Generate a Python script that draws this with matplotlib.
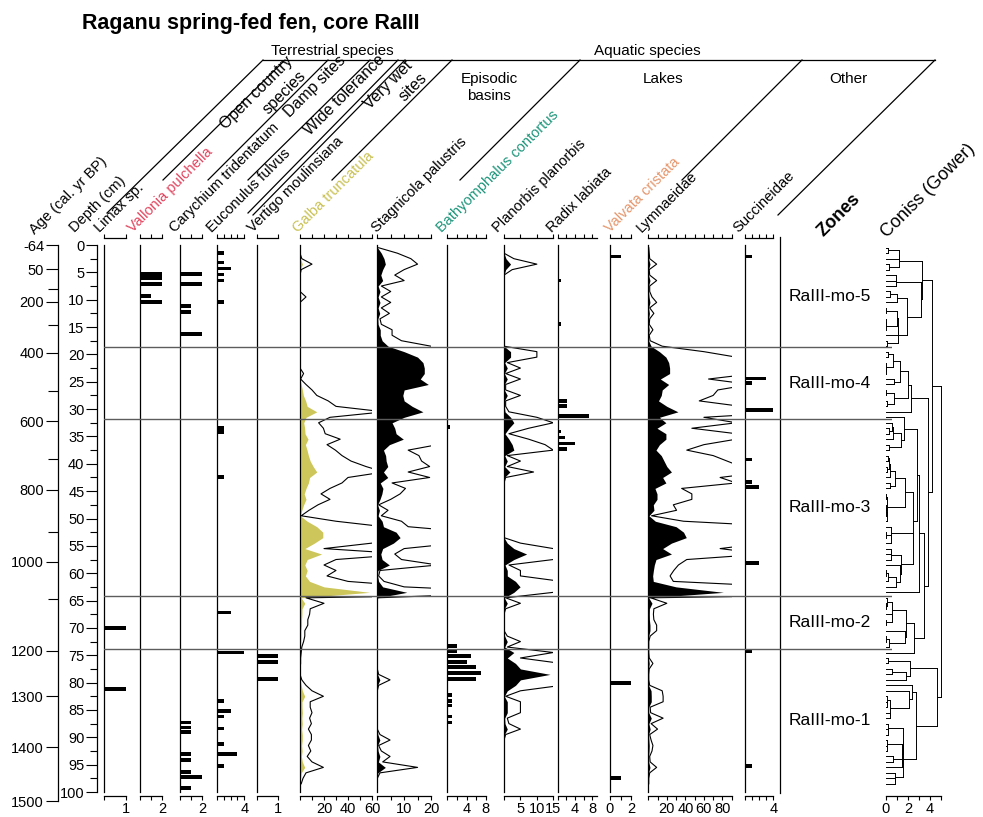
"""
Mollusc diagram, Raganu spring-fed fen, core RaIII
"""

import numpy as np
import matplotlib
matplotlib.use('Agg')
import matplotlib.pyplot as plt
from matplotlib.lines import Line2D

plt.rcParams['font.family'] = ['Liberation Sans', 'DejaVu Sans']

# ---------------------------------------------------------------------------- #
# Data
# ---------------------------------------------------------------------------- #

sample_depth = np.arange(0.5, 99.0, 1.0)   # 1 cm slices, cm

galba = [0, 0, 0.3, 2.0, 0.2, 0, 0, 0, 0, 1.0,
         0, 0, 0, 0, 0, 0, 0, 0, 0, 0,
         0, 0, 0, 0.6, 0.1, 1.0, 2.0, 2.8, 4.7, 6.0,
         14, 5.0, 3.1, 3.9, 4.2, 6.7, 4.5, 5.9, 7.0, 8.5,
         11, 14, 8.0, 7.0, 5.0, 3.5, 5.0, 3.0, 1.5, 0.2,
         6.0, 14, 19, 19, 12, 4.0, 18, 6.0, 4.0, 6.0,
         4.5, 8.0, 20, 58, 1.0, 4.0, 1.7, 1.6, 1.3, 1.3,
         0.8, 0.8, 0.6, 0.3, 0.2, 0.1, 0.1, 0, 0, 0.3,
         1.0, 2.0, 3.9, 1.7, 1.7, 2.0, 1.6, 1.9, 1.4, 1.9,
         1.9, 1.4, 1.8, 1.2, 2.0, 3.9, 1.0, 0.5, 0.2]

stagnicola = [0.1, 1.5, 2.5, 3.0, 2.0, 1.3, 2.0, 0.3, 1.0, 0.3,
              1.0, 0.3, 0.9, 0.2, 0.3, 1.1, 1.1, 1.8, 4.0, 10,
              15, 17, 17.5, 17.5, 16, 19, 10, 9.5, 10, 13,
              17, 10, 5.5, 6.5, 7.0, 9.7, 4.5, 2.3, 3.1, 3.3,
              3.9, 2.3, 3.9, 1.1, 2.1, 1.7, 1.0, 0.1, 0.8, 0.3,
              1.8, 2.3, 7.0, 8.5, 6.0, 2.0, 1.3, 1.8, 4.5, 0.2,
              0.1, 0.5, 2.0, 11, 0, 0, 0, 0, 0, 0,
              0, 0, 0, 0, 0, 0, 0, 0, 0.1, 0.95,
              0.1, 0, 0, 0, 0, 0, 0, 0, 0, 0.2,
              0.95, 0.1, 0.3, 0.95, 0.4, 3.0, 0.2, 0, 0]

planorbis = [0, 0, 0.6, 2.0, 0.5, 0, 0, 0, 0, 0,
             0, 0, 0, 0, 0, 0, 0, 0, 0, 2.0,
             2.0, 0.2, 1.0, 0.1, 1.0, 0.1, 0.1, 1.0, 0.1, 0.1,
             0.3, 2.0, 3.0, 1.5, 0.3, 1.5, 2.5, 3.0, 0.2, 1.0,
             0.2, 1.8, 0.1, 0, 0, 0, 0, 0, 0, 0,
             0, 0, 0, 0, 1.0, 3.0, 6.9, 3.0, 0.3, 1.0,
             1.0, 3.5, 4.9, 3.0, 0.1, 1.0, 0.1, 0, 0, 0,
             0, 0.2, 1.0, 0.2, 3.0, 1.0, 3.5, 5.0, 14, 5.0,
             3.5, 1.0, 0.1, 1.0, 1.0, 1.0, 0.2, 0.3, 1.0, 0.1,
             0, 0, 0, 0, 0, 0, 0, 0, 0]

lymnaeidae = [0.1, 0.2, 0.3, 1.8, 0.2, 0.3, 1.8, 0.3, 0.3, 0.8,
              1.8, 0.3, 1.2, 0.3, 0.2, 1.0, 0.2, 0.4, 3.0, 12,
              19, 22, 23, 23, 13, 22, 15, 14, 11, 20,
              32, 12, 19, 9.4, 19, 19, 12, 8.3, 14, 17,
              20, 25, 15.5, 19, 7.2, 9.4, 9.4, 5.4, 6.1, 0.7,
              7.6, 30, 38, 41, 25, 15.5, 25, 8.3, 6.5, 5.5,
              4.7, 5.4, 30, 81, 0.5, 4.0, 1.2, 1.1, 1.2, 1.8,
              1.8, 0.4, 0.1, 0.1, 0.1, 0.2, 1.0, 0.2, 0.1, 0.1,
              0.3, 3.0, 3.2, 3.2, 0.4, 0.5, 3.2, 0.6, 2.0, 0.3,
              0.6, 1.0, 0.8, 0.3, 0.4, 1.8, 0.3, 0.1, 0.1]

limax_depth = [70.0, 81.2]
limax = [1, 1]
vallonia_depth = [5.3, 6.1, 7.2, 9.3, 10.4]
vallonia = [2, 2, 2, 1, 2]
carychium_depth = [5.3, 7.2, 11.2, 12.2, 16.2, 87.3, 88.2, 89.1, 93.1, 94.1,
                   96.3, 97.3, 99.2]
carychium = [2, 2, 1, 1, 2, 1, 1, 1, 1, 1, 1, 2, 1]
euconulus_depth = [1.4, 3.2, 4.3, 5.4, 6.5, 10.4, 33.4, 34.2, 42.4, 67.2,
                   74.5, 83.4, 85.2, 86.2, 88.4, 91.3, 93.1, 95.2]
euconulus = [1, 1, 2, 1, 1, 1, 1, 1, 1, 2, 4, 1, 2, 1, 1, 1, 3, 1]
vertigo_depth = [75.1, 76.2, 79.4]
vertigo = [1, 1, 1]
bathyomphalus_depth = [33.3, 73.3, 74.3, 75.1, 76.2, 77.2, 78.3, 79.4, 82.3,
                       83.3, 84.2, 86.2, 87.3]
bathyomphalus = [0.5, 2, 2, 5, 4, 6, 7, 6, 1, 1, 1, 1, 1]
radix_depth = [6.5, 14.4, 28.5, 29.4, 31.2, 34.1, 35.2, 36.3, 37.3]
radix = [0.7, 0.7, 2.2, 2.2, 7.2, 0.7, 1.6, 4.0, 2.2]
valvata_depth = [2.1, 80.1, 97.4]
valvata = [1, 2, 1]
succineidae_depth = [2.1, 24.4, 25.2, 30.2, 39.2, 43.3, 44.2, 58.2, 74.3, 95.2]
succineidae = [1, 3, 1, 4, 1, 1, 2, 2, 1, 1]

zone_bounds = [18.7, 31.8, 64.1, 73.9]
zone_names = ['RaIII-mo-5', 'RaIII-mo-4', 'RaIII-mo-3', 'RaIII-mo-2', 'RaIII-mo-1']

age_major = ['-64', '50', '200', '400', '600', '800', '1000', '1200', '1300', '1400', '1500']
age_major_depth = [0, 4.4, 10.4, 19.7, 32.2, 44.7, 57.9, 74.2, 82.5, 91.8, 101.7]
age_minor_depth = [8.0, 14.6, 26.7, 39.1, 52.5, 64.7]   # 100, 300, ..., 1100

EXAG = 5

# ---------------------------------------------------------------------------- #
# Layout (pixels of the 983 x 817 figure)
# ---------------------------------------------------------------------------- #

W, H = 983.0, 817.0
TOP, BOT = 245.0, 792.0


def fx(x):
    return x / W


def fy(y):
    return 1.0 - y / H


def add_panel(x0, x1, y0=TOP, y1=BOT):
    return fig.add_axes([fx(x0), fy(y1), (x1 - x0) / W, (y1 - y0) / H])


# name, data, x0, x1, xmax, ticks, labelled ticks, label anchor x, label colour
panels = [
    ('Limax sp.', (limax_depth, limax), 104.3, 126.0, 1, [0, 1], [1], 100, 'black'),
    ('Vallonia pulchella', (vallonia_depth, vallonia), 139.7, 162.0, 2, [0, 1, 2], [2], 133, '#e2445e'),
    ('Carychium tridentatum', (carychium_depth, carychium), 180.3, 202.0, 2, [0, 1, 2], [2], 175, 'black'),
    ('Euconulus fulvus', (euconulus_depth, euconulus), 216.7, 244.3, 4, [0, 1, 2, 3, 4], [4], 212, 'black'),
    ('Vertigo moulinsiana', (vertigo_depth, vertigo), 256.7, 278.3, 1, [0, 1], [1], 253, 'black'),
    ('Galba truncatula', galba, 300.0, 372.0, 60, list(range(0, 61, 10)), [20, 40, 60], 298, '#c9c153'),
    ('Stagnicola palustris', stagnicola, 377.3, 431.0, 20, [0, 5, 10, 15, 20], [10, 20], 377, 'black'),
    ('Bathyomphalus contortus', (bathyomphalus_depth, bathyomphalus), 447.3, 485.7, 8, [0, 2, 4, 6, 8], [4, 8], 442, '#1c957a'),
    ('Planorbis planorbis', planorbis, 504.0, 553.3, 15, [0, 5, 10, 15], [5, 10, 15], 498, 'black'),
    ('Radix labiata', (radix_depth, radix), 557.7, 596.7, 9, [0, 2, 4, 6, 8], [4, 8], 552, 'black'),
    ('Valvata cristata', (valvata_depth, valvata), 610.0, 631.0, 2, [0, 1, 2], [0, 2], 610, '#e6966c'),
    ('Lymnaeidae', lymnaeidae, 648.3, 731.7, 90, list(range(0, 91, 10)), [20, 40, 60, 80], 642, 'black'),
    ('Succineidae', (succineidae_depth, succineidae), 745.0, 773.3, 4, [0, 1, 2, 3, 4], [4], 738, 'black'),
]
fill_colours = {'Galba truncatula': '#cdc65a'}

fig = plt.figure(figsize=(9.83, 8.17), dpi=100)

# ---------------------------------------------------------------------------- #
# Taxon panels
# ---------------------------------------------------------------------------- #

for name, data, x0, x1, xmax, ticks, shown, lab_x, lab_c in panels:
    ax = add_panel(x0, x1)
    ax.set_xlim(0, xmax)
    ax.set_ylim(100, 0)
    ax.patch.set_alpha(0)
    if isinstance(data, tuple):
        ax.barh(data[0], data[1], height=0.7, color='black', linewidth=0)
    else:
        vals = np.array(data, dtype=float)
        ax.fill_betweenx(sample_depth, 0, vals, color=fill_colours.get(name, 'black'),
                         linewidth=0)
        ax.plot(vals * EXAG, sample_depth, color='black', lw=0.8)
    ax.spines['right'].set_visible(False)
    ax.spines['top'].set_position(('outward', 5))
    ax.spines['bottom'].set_position(('outward', 3))
    for s in ['left', 'top', 'bottom']:
        ax.spines[s].set_linewidth(0.9)
    ax.set_yticks([])
    ax.set_xticks(ticks)
    ax.set_xticklabels([str(t) if t in shown else '' for t in ticks])
    ax.tick_params(axis='x', top=True, bottom=True, direction='out', length=3,
                   width=0.8, labelsize=10.5, pad=1.5)
    fig.text(fx(lab_x), fy(233), name, rotation=45, rotation_mode='anchor',
             ha='left', va='baseline', fontsize=10.5, color=lab_c)

# ---------------------------------------------------------------------------- #
# Age and depth axes
# ---------------------------------------------------------------------------- #

px_cm = (BOT - TOP) / 100.0
ax_age = add_panel(58, 59, TOP, TOP + 101.7 * px_cm)
ax_age.set_ylim(101.7, 0)
ax_age.set_yticks(age_major_depth)
ax_age.set_yticklabels(age_major)
ax_age.set_yticks(age_minor_depth, minor=True)
ax_age.tick_params(axis='y', which='major', length=9, width=0.8, labelsize=10.5, pad=1)
ax_age.tick_params(axis='y', which='minor', length=7, width=0.8)

ax_dep = add_panel(97, 98)
ax_dep.set_ylim(100, 0)
ax_dep.set_yticks(np.arange(0, 101, 5))
ax_dep.set_yticklabels([str(v) for v in range(0, 101, 5)])
ax_dep.set_yticks(np.arange(2.5, 100, 5), minor=True)
ax_dep.tick_params(axis='y', which='major', length=8, width=0.8, labelsize=10.5, pad=1)
ax_dep.tick_params(axis='y', which='minor', length=5, width=0.8)

for a in (ax_age, ax_dep):
    a.patch.set_alpha(0)
    a.set_xticks([])
    for s in ['right', 'top', 'bottom']:
        a.spines[s].set_visible(False)
    a.spines['left'].set_linewidth(0.9)

fig.text(fx(35), fy(235), 'Age (cal. yr BP)', rotation=45, rotation_mode='anchor',
         ha='left', va='baseline', fontsize=10.5)
fig.text(fx(75), fy(233), 'Depth (cm)', rotation=45, rotation_mode='anchor',
         ha='left', va='baseline', fontsize=10.5)

# ---------------------------------------------------------------------------- #
# CONISS on Gower dissimilarities (stratigraphically constrained)
# ---------------------------------------------------------------------------- #

n = len(sample_depth)
counts = np.zeros((n, 13))
for j, (name, data, *_rest) in enumerate(panels):
    if isinstance(data, tuple):
        for d, v in zip(*data):
            counts[min(int(round(d - 0.5)), n - 1), j] += v
    else:
        counts[:, j] = data
rng = counts.max(axis=0) - counts.min(axis=0)
rng[rng == 0] = 1
scaled = counts / rng
gower = np.abs(scaled[:, None, :] - scaled[None, :, :]).mean(axis=2)


def coniss(dmat):
    # clusters are contiguous index ranges [a, b)
    bounds = [[i, i + 1] for i in range(len(dmat))]
    inner = [0.0] * len(dmat)          # sum of dissimilarities inside each cluster
    ypos = list(sample_depth)
    hts = [0.0] * len(dmat)
    segs = []
    within = 0.0
    while len(bounds) > 1:
        incs = []
        for j in range(len(bounds) - 1):
            a0, a1 = bounds[j]
            b0, b1 = bounds[j + 1]
            na, nb = a1 - a0, b1 - b0
            cross = dmat[a0:a1, b0:b1].sum()
            incs.append((inner[j] + inner[j + 1] + cross) / (na + nb)
                        - inner[j] / na - inner[j + 1] / nb)
        j = int(np.argmin(incs))
        a0, a1 = bounds[j]
        b0, b1 = bounds[j + 1]
        within += incs[j]
        ya, yb = ypos[j], ypos[j + 1]
        segs.append(([hts[j], within], [ya, ya]))
        segs.append(([hts[j + 1], within], [yb, yb]))
        segs.append(([within, within], [ya, yb]))
        inner[j] = inner[j] + inner[j + 1] + dmat[a0:a1, b0:b1].sum()
        bounds[j] = [a0, b1]
        ypos[j] = 0.5 * (ya + yb)
        hts[j] = within
        del bounds[j + 1], inner[j + 1], ypos[j + 1], hts[j + 1]
    return segs, within


segs, total_ss = coniss(gower)

ax_den = add_panel(886, 941)
ax_den.set_xlim(0, 5)
ax_den.set_ylim(100, 0)
ax_den.patch.set_alpha(0)
for xs, ys in segs:
    ax_den.plot(xs, ys, color='black', lw=0.7, clip_on=False)
for s in ['left', 'right', 'top']:
    ax_den.spines[s].set_visible(False)
ax_den.spines['bottom'].set_position(('outward', 3))
ax_den.spines['bottom'].set_linewidth(0.9)
ax_den.set_yticks([])
ax_den.set_xticks(range(6))
ax_den.set_xticklabels(['0', '', '2', '', '4', ''])
ax_den.tick_params(axis='x', direction='out', length=3, width=0.8, labelsize=10.5, pad=1.5)

# ---------------------------------------------------------------------------- #
# Zones
# ---------------------------------------------------------------------------- #

ax_zone = add_panel(104, 892)
ax_zone.set_xlim(0, 1)
ax_zone.set_ylim(100, 0)
ax_zone.axis('off')
ax_zone.set_zorder(10)
for b in zone_bounds:
    ax_zone.axhline(b, color='#5c5c5c', lw=1.0)

ax_zl = add_panel(780, 886)
ax_zl.set_xlim(0, 1)
ax_zl.set_ylim(100, 0)
ax_zl.axis('off')
edges = [0] + zone_bounds + [100]
for i, zname in enumerate(zone_names):
    ax_zl.text(0.47, 0.5 * (edges[i] + edges[i + 1]), zname, ha='center', va='center',
               fontsize=12.5)
ax_zl.plot([0, 0], [-1.5, 100.2], color='black', lw=0.9, clip_on=False)

fig.text(fx(823), fy(237), 'Zones', rotation=45, rotation_mode='anchor', ha='left',
         va='baseline', fontsize=13, fontweight='bold')
fig.text(fx(887), fy(238), 'Coniss (Gower)', rotation=45, rotation_mode='anchor',
         ha='left', va='baseline', fontsize=13)

# ---------------------------------------------------------------------------- #
# Header: title and ecological groups
# ---------------------------------------------------------------------------- #

fig.text(fx(82), fy(28.5), 'Raganu spring-fed fen, core RaIII', fontsize=15.5,
         fontweight='bold', va='baseline')

header_lines = [((107, 213), (263, 60)), ((163, 180), (285, 60)),
                ((208, 180), (328, 60)), ((248, 180), (370, 60)),
                ((248, 213), (398, 60)), ((253, 215), (405, 60)),
                ((332, 180), (452, 60)), ((460, 180), (580, 60)),
                ((682, 180), (802, 60)), ((778, 215), (935, 60)),
                ((263, 60), (935, 60))]
for (xa, ya), (xb, yb) in header_lines:
    fig.add_artist(Line2D([fx(xa), fx(xb)], [fy(ya), fy(yb)], color='black', lw=0.9))

for txt, x, y in [('Terrestrial species', 332, 55), ('Aquatic species', 647, 55),
                  ('Episodic', 489, 83), ('basins', 489, 100), ('Lakes', 663, 83),
                  ('Other', 848, 83)]:
    fig.text(fx(x), fy(y), txt, ha='center', va='baseline', fontsize=11)

for txt, x, y in [('Open country', 226, 130), ('species', 268, 115),
                  ('Damp sites', 290, 118), ('Wide tolerance', 310, 136),
                  ('Very wet', 370, 110), ('sites', 405, 102)]:
    fig.text(fx(x), fy(y), txt, rotation=45, rotation_mode='anchor', ha='left',
             va='baseline', fontsize=11.5)

fig.savefig('out.png', dpi=100)
